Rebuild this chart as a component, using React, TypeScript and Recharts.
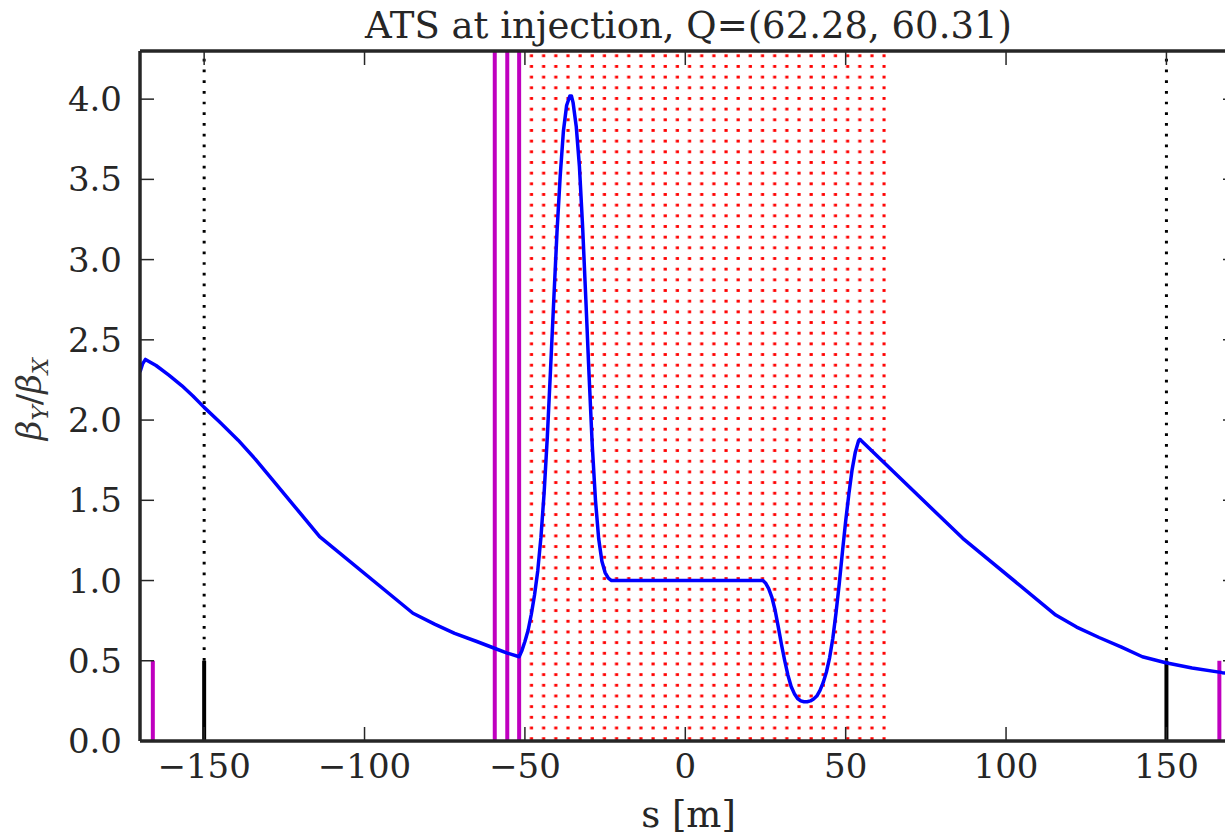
import {
  ComposedChart,
  Line,
  XAxis,
  YAxis,
  ReferenceLine,
  ReferenceArea,
} from "recharts";

// beta ratio along s
const sPos = [
  -170, -169.2, -168.3, -165, -161, -157, -153.5, -150, -145, -139.4, -134,
  -129, -121.5, -114, -84.9, -78, -71.9, -65, -59.5, -55.5, -51.8, -51, -50,
  -49, -48, -47, -46, -45, -44, -43, -42, -41, -40, -39, -38, -37, -36, -35.5,
  -35, -34, -33, -32, -31, -30, -29, -28, -27, -26, -25, -24, -23, 24.2, 25,
  26, 27, 28, 29, 30, 31, 32, 33, 34, 35, 36, 37, 38, 39, 40, 41, 42, 43, 44,
  45, 46, 47, 48, 49, 50, 51, 52, 53, 54, 54.4, 86.5, 115.5, 122, 129, 136,
  142.5, 149.8, 158, 167.4, 172,
];
const betaRatio = [
  2.3, 2.35, 2.378, 2.34, 2.28, 2.215, 2.15, 2.079, 1.985, 1.875, 1.755, 1.635,
  1.455, 1.273, 0.796, 0.727, 0.671, 0.62, 0.578, 0.548, 0.525, 0.56, 0.62,
  0.69, 0.79, 0.91, 1.06, 1.27, 1.55, 1.9, 2.32, 2.75, 3.17, 3.52, 3.8, 3.96,
  4.02, 4.02, 3.98, 3.83, 3.58, 3.2, 2.75, 2.28, 1.84, 1.5, 1.26, 1.12, 1.05,
  1.015, 1.0, 1.0, 0.985, 0.95, 0.895, 0.815, 0.71, 0.6, 0.5, 0.41, 0.34,
  0.295, 0.265, 0.25, 0.245, 0.245, 0.25, 0.262, 0.28, 0.315, 0.365, 0.43,
  0.52, 0.64, 0.8, 0.98, 1.18, 1.37, 1.54, 1.69, 1.8, 1.87, 1.88, 1.263, 0.785,
  0.71, 0.645, 0.585, 0.525, 0.488, 0.455, 0.426, 0.415,
];

const xTicks = [-150, -100, -50, 0, 50, 100, 150];
const yTicks = [0, 0.5, 1, 1.5, 2, 2.5, 3, 3.5, 4];

const hatchRange = [-51.8, 62.5];
const magentaTall = [-59.4, -55.5, -51.8];
const magentaShort = [-166, 166.5];
const blackMarkers = [-150, 150];
const markerTop = 0.5;

const data = sPos.map((s, i) => ({ s, r: betaRatio[i] }));

const INK = "#262626";
const SERIF = "'DejaVu Serif', serif";
const MAGENTA = "#bf00bf";
const GAP = 8;
const TICK_LEN = 14;

const fmtX = (v: number) => (v < 0 ? "\u2212" + Math.abs(v) : String(v));

function BottomTick(props: any) {
  const { x, y, payload } = props;
  const axisY = y - GAP;
  return (
    <g>
      <line x1={x} x2={x} y1={axisY} y2={axisY - TICK_LEN} stroke={INK} strokeWidth={1.5} />
      <text x={x} y={axisY + 37} textAnchor="middle" fontSize={34} fontFamily={SERIF} fill={INK}>
        {fmtX(payload.value)}
      </text>
    </g>
  );
}

function TopTick(props: any) {
  const { x, y } = props;
  const axisY = y + GAP;
  return <line x1={x} x2={x} y1={axisY} y2={axisY + TICK_LEN} stroke={INK} strokeWidth={1.5} />;
}

function LeftTick(props: any) {
  const { x, y, payload } = props;
  const axisX = x + GAP;
  return (
    <g>
      <line x1={axisX} x2={axisX + TICK_LEN} y1={y} y2={y} stroke={INK} strokeWidth={1.5} />
      <text x={axisX - 18} y={y + 12} textAnchor="end" fontSize={34} fontFamily={SERIF} fill={INK}>
        {payload.value.toFixed(1)}
      </text>
    </g>
  );
}

function RightTick(props: any) {
  const { x, y } = props;
  const axisX = x - GAP;
  return <line x1={axisX} x2={axisX - TICK_LEN} y1={y} y2={y} stroke={INK} strokeWidth={1.5} />;
}

function DotHatch(props: any) {
  const { x, y, width, height } = props;
  return (
    <g>
      <defs>
        <pattern id="dotHatch" patternUnits="userSpaceOnUse" width={12.16} height={10.67}>
          <rect x={7} y={1} width={3.2} height={2.8} fill="#ff0000" />
        </pattern>
      </defs>
      <rect x={x} y={y} width={width} height={height} fill="url(#dotHatch)" />
    </g>
  );
}

const spine = { stroke: INK, strokeWidth: 3.5 };

export default function App() {
  return (
    <div
      style={{
        position: "absolute",
        left: 0,
        top: 0,
        width: 1225,
        height: 839,
        overflow: "hidden",
        background: "#fff",
      }}
    >
      <ComposedChart
        width={1238}
        height={839}
        data={data}
        margin={{ top: 50, right: 0, bottom: 38, left: 0 }}
      >
        <XAxis
          dataKey="s"
          type="number"
          domain={[-170, 172]}
          ticks={xTicks}
          interval={0}
          allowDataOverflow
          height={60}
          tickSize={0}
          tickMargin={GAP}
          tickLine={false}
          axisLine={spine}
          tick={<BottomTick />}
        />
        <XAxis
          xAxisId="top"
          orientation="top"
          dataKey="s"
          type="number"
          domain={[-170, 172]}
          ticks={xTicks}
          interval={0}
          allowDataOverflow
          height={1}
          tickSize={0}
          tickMargin={GAP}
          tickLine={false}
          axisLine={spine}
          tick={<TopTick />}
        />
        <YAxis
          type="number"
          domain={[0, 4.3]}
          ticks={yTicks}
          interval={0}
          allowDataOverflow
          width={140}
          tickSize={0}
          tickMargin={GAP}
          tickLine={false}
          axisLine={spine}
          tick={<LeftTick />}
        />
        <YAxis
          yAxisId="right"
          orientation="right"
          type="number"
          domain={[0, 4.3]}
          ticks={yTicks}
          interval={0}
          allowDataOverflow
          width={1}
          tickSize={0}
          tickMargin={GAP}
          tickLine={false}
          axisLine={spine}
          tick={<RightTick />}
        />

        <ReferenceArea
          x1={hatchRange[0]}
          x2={hatchRange[1]}
          y1={0}
          y2={4.3}
          shape={<DotHatch />}
        />

        {blackMarkers.map((s) => (
          <ReferenceLine
            key={"bd" + s}
            segment={[
              { x: s, y: markerTop },
              { x: s, y: 4.3 },
            ]}
            stroke="#000"
            strokeWidth={3}
            strokeDasharray="2.7 8"
          />
        ))}
        {blackMarkers.map((s) => (
          <ReferenceLine
            key={"bs" + s}
            segment={[
              { x: s, y: 0 },
              { x: s, y: markerTop },
            ]}
            stroke="#000"
            strokeWidth={4}
          />
        ))}
        {magentaShort.map((s) => (
          <ReferenceLine
            key={"ms" + s}
            segment={[
              { x: s, y: 0 },
              { x: s, y: markerTop },
            ]}
            stroke={MAGENTA}
            strokeWidth={4}
          />
        ))}
        {magentaTall.map((s) => (
          <ReferenceLine key={"mt" + s} x={s} stroke={MAGENTA} strokeWidth={4} />
        ))}

        <Line
          dataKey="r"
          type="linear"
          stroke="#0000ff"
          strokeWidth={3.5}
          strokeLinejoin="round"
          dot={false}
          isAnimationActive={false}
        />
      </ComposedChart>

      <div
        style={{
          position: "absolute",
          left: 188.5,
          width: 1000,
          top: 7,
          textAlign: "center",
          fontFamily: SERIF,
          fontSize: 37,
          lineHeight: 1,
          color: INK,
          whiteSpace: "nowrap",
        }}
      >
        ATS at injection, Q=(62.28, 60.31)
      </div>
      <div
        style={{
          position: "absolute",
          left: 188.5,
          width: 1000,
          top: 796,
          textAlign: "center",
          fontFamily: SERIF,
          fontSize: 37,
          lineHeight: 1,
          color: INK,
          whiteSpace: "nowrap",
        }}
      >
        s [m]
      </div>
      <div
        style={{
          position: "absolute",
          left: 32,
          top: 399,
          transform: "translate(-50%, -50%) rotate(-90deg)",
          fontFamily: SERIF,
          fontSize: 34,
          lineHeight: 1,
          color: "#333",
          whiteSpace: "nowrap",
        }}
      >
        <i>β</i>
        <sub style={{ fontSize: 23, fontStyle: "italic" }}>Y</sub>/<i>β</i>
        <sub style={{ fontSize: 23, fontStyle: "italic" }}>X</sub>
      </div>
    </div>
  );
}
